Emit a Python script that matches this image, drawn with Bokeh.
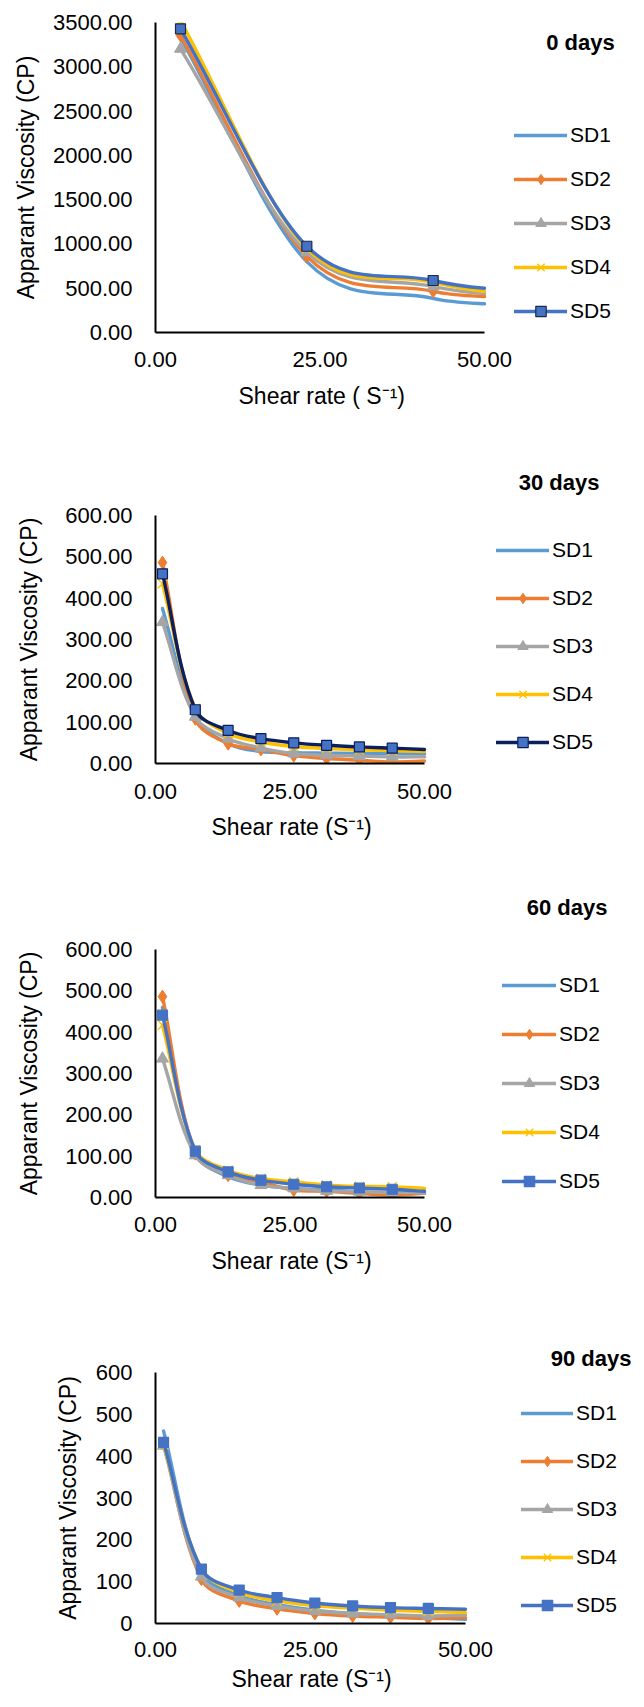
import numpy as np
from bokeh.plotting import figure
from bokeh.models import (Legend, LegendItem, Title, Label, FixedTicker,
                          NumeralTickFormatter, Range1d, ColumnDataSource)
from bokeh.layouts import column
from bokeh.embed import file_html
from bokeh.resources import INLINE

# ---------------- data ----------------
series_names = ["SD1", "SD2", "SD3", "SD4", "SD5"]

# 0 days: measured points (the last entry is the curve value at the 50 s-1 axis end)
shear_0d = [3.8, 23.0, 42.2, 50.0]
visc_0d_sd1 = [3330, 800, 385, 324]
visc_0d_sd2 = [3353, 860, 465, 406]
visc_0d_sd3 = [3203, 905, 520, 440]
visc_0d_sd4 = [3520, 950, 568, 463]
visc_0d_sd5 = [3429, 974, 587, 500]

shear_t = [1.3, 7.4, 13.5, 19.6, 25.7, 31.8, 37.9, 44.0, 50.0]

visc_30d_sd1 = [375, 112, 48, 29, 26, 25, 24, 24, 23]
visc_30d_sd2 = [486, 108, 48, 34, 19, 12, 8, 4, 6]
visc_30d_sd3 = [342, 113, 60, 38, 24, 20, 18, 16, 16]
visc_30d_sd4 = [435, 133, 72, 52, 41, 36, 33, 31, 29]
visc_30d_sd5 = [459, 130, 80, 60, 50, 44, 40, 37, 34]

visc_60d_sd1 = [460, 106, 50, 30, 22, 18, 14, 12, 10]
visc_60d_sd2 = [486, 106, 54, 38, 18, 15, 10, 6, 10]
visc_60d_sd3 = [336, 102, 54, 30, 22, 16, 14, 12, 11]
visc_60d_sd4 = [417, 115, 66, 46, 38, 30, 27, 26, 22]
visc_60d_sd5 = [441, 112, 62, 42, 32, 26, 23, 20, 15]

visc_90d_sd1 = [460, 122, 66, 45, 32, 24, 18, 14, 10]
visc_90d_sd2 = [432, 106, 54, 35, 24, 18, 15, 12, 14]
visc_90d_sd3 = [425, 112, 62, 42, 30, 24, 21, 18, 20]
visc_90d_sd4 = [428, 130, 74, 54, 42, 37, 32, 29, 26]
visc_90d_sd5 = [433, 130, 80, 62, 49, 42, 38, 36, 34]

x_ticks = [0, 25, 50]
y_ticks_0d = [0, 500, 1000, 1500, 2000, 2500, 3000, 3500]
y_ticks_t = [0, 100, 200, 300, 400, 500, 600]

panel_titles = ["0 days", "30 days", "60 days", "90 days"]
y_title = "Apparant Viscosity (CP)"
x_title_0d = "Shear rate ( S\u207b\u00b9)"
x_title_t = "Shear rate (S\u207b\u00b9)"

# ---------------- styles ----------------
FONT = "Liberation Sans"
line_colors = ["#5B9BD5", "#ED7D31", "#A5A5A5", "#FFC000", "#4472C4"]
markers = [None, "diamond", "triangle", "x", "square"]
marker_sizes = [0, 13, 12, 13, 10]
FIG_W = 644
LEFT = 155


def bezier_source(xs, ys, sx, sy, mode):
    """Smoothed-line Bezier segments through the data points (Excel-like)."""
    if mode == "chord":
        x = np.asarray(xs, float) * sx
        y = np.asarray(ys, float) * sy
        P = np.column_stack([x, y])
        d = np.linalg.norm(P[1:] - P[:-1], axis=1)
        U = np.empty_like(P)
        U[0] = P[1] - P[0]
        U[-1] = P[-1] - P[-2]
        U[1:-1] = P[2:] - P[:-2]
        U = U / np.linalg.norm(U, axis=1)[:, None]
        C0 = P[:-1] + U[:-1] * (d / 3)[:, None]
        C1 = P[1:] - U[1:] * (d / 3)[:, None]
        return ColumnDataSource(dict(
            x0=x[:-1] / sx, y0=y[:-1] / sy, x1=x[1:] / sx, y1=y[1:] / sy,
            cx0=C0[:, 0] / sx, cy0=C0[:, 1] / sy, cx1=C1[:, 0] / sx, cy1=C1[:, 1] / sy))
    x = np.asarray(xs, float)
    y = np.asarray(ys, float)
    n = len(x)
    m = np.empty(n)
    m[1:-1] = (y[2:] - y[:-2]) / (x[2:] - x[:-2])
    m[0] = (y[1] - y[0]) / (x[1] - x[0])
    m[-1] = 0.5 * (y[-1] - y[-2]) / (x[-1] - x[-2])
    h = x[1:] - x[:-1]
    return ColumnDataSource(dict(
        x0=x[:-1], y0=y[:-1], x1=x[1:], y1=y[1:],
        cx0=x[:-1] + h / 3, cy0=y[:-1] + m[:-1] * h / 3,
        cx1=x[1:] - h / 3, cy1=y[1:] - m[1:] * h / 3))


def make_panel(shear, series, ymax, yticks, yfmt, title, xlabel, cfg):
    frame_w = FIG_W - LEFT
    frame_h = cfg["height"] - cfg["top"] - cfg["bottom"]
    x_end = 50.0 * frame_w / cfg["axis_w"]
    px_x = cfg["axis_w"] / 50.0
    px_y = frame_h / float(ymax)
    p = figure(width=FIG_W, height=cfg["height"], output_backend="svg",
               toolbar_location=None,
               x_range=Range1d(0, x_end), y_range=Range1d(0, ymax),
               min_border_left=LEFT, min_border_right=0,
               min_border_top=cfg["top"], min_border_bottom=cfg["bottom"])
    p.outline_line_color = None
    p.grid.visible = False
    p.background_fill_color = "white"
    p.border_fill_color = "white"

    xs = np.asarray(shear, float)
    items = []
    for i, (name, vals) in enumerate(zip(series_names, series)):
        col = line_colors[i]
        lcol = col
        if cfg.get("sd5_line") and i == 4:
            lcol = cfg["sd5_line"]
        src = bezier_source(shear, vals, px_x, px_y, cfg["smooth"])
        rb = p.bezier(x0="x0", y0="y0", x1="x1", y1="y1", cx0="cx0", cy0="cy0",
                      cx1="cx1", cy1="cy1", source=src, line_color=lcol,
                      line_width=3.4, line_cap="round")
        rends = [rb]
        if markers[i] is not None:
            mask = xs < 49.9
            vv = np.asarray(vals, float)
            msrc = ColumnDataSource(dict(x=xs[mask], y=vv[mask]))
            if markers[i] == "x":
                rs = p.scatter("x", "y", source=msrc, marker="x", size=marker_sizes[i],
                               line_color=col, line_width=1.3)
            elif markers[i] == "square":
                rs = p.scatter("x", "y", source=msrc, marker="square", size=marker_sizes[i],
                               fill_color=col, line_color=cfg.get("sd5_edge", col),
                               line_width=1.2)
            else:
                rs = p.scatter("x", "y", source=msrc, marker=markers[i], size=marker_sizes[i],
                               fill_color=col, line_color=col, line_width=1)
            rends.append(rs)
        items.append(LegendItem(label=name, renderers=rends))

    legend = Legend(items=items, location=cfg["legend_loc"], ncols=1,
                    orientation="vertical",
                    glyph_width=cfg["glyph_w"], glyph_height=26, label_height=26,
                    spacing=cfg["spacing"], padding=0, margin=0, label_standoff=3,
                    border_line_color=None, background_fill_alpha=0,
                    label_text_font=FONT, label_text_font_size="21px",
                    label_text_color="black")
    p.add_layout(legend)

    if cfg.get("title_label"):
        tx, ty = cfg["title_label"]
        p.add_layout(Label(x=tx, y=ty, x_units="screen", y_units="screen", text=title,
                           text_align="center", text_baseline="middle", text_font=FONT,
                           text_font_size="22px", text_font_style="bold",
                           text_color="black"))
    else:
        p.add_layout(Title(text=title, align="right", vertical_align="bottom",
                           offset=cfg["title_offset"], standoff=cfg["title_std"],
                           text_font=FONT, text_font_size="22px", text_font_style="bold",
                           text_color="black"), "above")

    # x-axis title (placed under the axis, centred on the 0-50 span)
    p.add_layout(Title(text=xlabel, align="left", vertical_align="top",
                       offset=cfg["xl_offset"], standoff=cfg["xl_std"],
                       text_font=FONT, text_font_size="23px", text_font_style="normal",
                       text_color="black"), "below")

    p.xaxis.ticker = FixedTicker(ticks=x_ticks)
    p.xaxis.formatter = NumeralTickFormatter(format="0.00")
    p.xaxis.bounds = (0, 50)
    p.yaxis.ticker = FixedTicker(ticks=yticks)
    p.yaxis.formatter = NumeralTickFormatter(format=yfmt)
    p.yaxis.bounds = (0, ymax)
    p.yaxis.axis_label = y_title
    for ax in (p.xaxis, p.yaxis):
        ax.major_tick_out = 0
        ax.major_tick_in = 0
        ax.minor_tick_out = 0
        ax.minor_tick_in = 0
        ax.major_tick_line_color = None
        ax.minor_tick_line_color = None
        ax.axis_line_color = "black"
        ax.axis_line_width = 2
        ax.major_label_text_font = FONT
        ax.major_label_text_font_size = "22px"
        ax.major_label_text_color = "black"
        ax.axis_label_text_font = FONT
        ax.axis_label_text_font_size = "23px"
        ax.axis_label_text_font_style = "normal"
        ax.axis_label_text_color = "black"
    p.xaxis.major_label_standoff = cfg["x_std"]
    p.yaxis.major_label_standoff = 23
    p.yaxis.axis_label_standoff = cfg["y_lstd"]
    return p


p1 = make_panel(shear_0d, [visc_0d_sd1, visc_0d_sd2, visc_0d_sd3, visc_0d_sd4, visc_0d_sd5],
                3500, y_ticks_0d, "0.00", panel_titles[0], x_title_0d,
                dict(height=432, top=22, bottom=100, axis_w=329, legend_loc=(359, 8),
                     glyph_w=53, spacing=18, title_label=(425, 290), smooth="cardinal",
                     x_std=19, xl_offset=83, xl_std=26, y_lstd=11, sd5_edge="#1A2A4A"))
p2 = make_panel(shear_t, [visc_30d_sd1, visc_30d_sd2, visc_30d_sd3, visc_30d_sd4, visc_30d_sd5],
                600, y_ticks_t, "0.00", panel_titles[1], x_title_t,
                dict(height=431, top=83, bottom=100, axis_w=269, legend_loc=(341, 8),
                     glyph_w=53, spacing=22, title_offset=45, title_std=41, smooth="chord",
                     x_std=20, xl_offset=56, xl_std=25, y_lstd=20,
                     sd5_line="#0B1F5C", sd5_edge="#0B1F5C"))
p3 = make_panel(shear_t, [visc_60d_sd1, visc_60d_sd2, visc_60d_sd3, visc_60d_sd4, visc_60d_sd5],
                600, y_ticks_t, "0.00", panel_titles[2], x_title_t,
                dict(height=434, top=86, bottom=100, axis_w=269, legend_loc=(347, 3),
                     glyph_w=54, spacing=23, title_offset=37, title_std=59, smooth="chord",
                     x_std=19, xl_offset=56, xl_std=26, y_lstd=20))
p4 = make_panel(shear_t, [visc_90d_sd1, visc_90d_sd2, visc_90d_sd3, visc_90d_sd4, visc_90d_sd5],
                600, y_ticks_t, "0", panel_titles[3], x_title_t,
                dict(height=410, top=75, bottom=84, axis_w=310, legend_loc=(366, 5),
                     glyph_w=52, spacing=22, title_offset=13, title_std=3, smooth="chord",
                     x_std=18, xl_offset=76, xl_std=12, y_lstd=12))

layout = column(p1, p2, p3, p4, spacing=0)
open("out.html", "w").write(file_html(layout, INLINE))
